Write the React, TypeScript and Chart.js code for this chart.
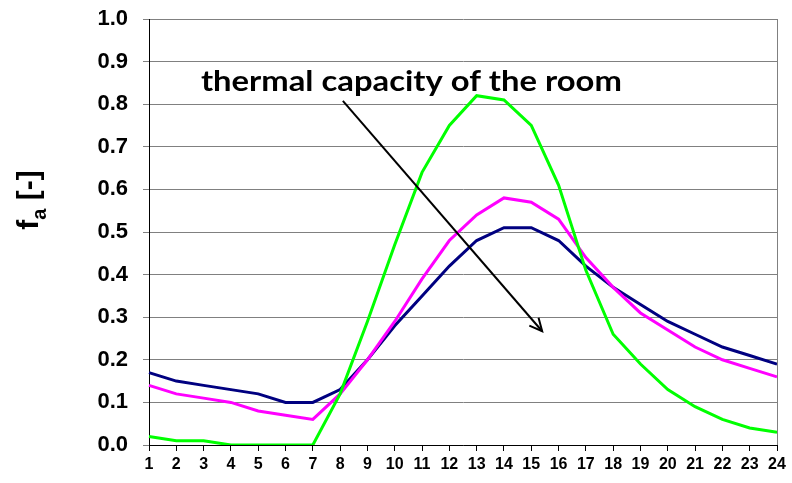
import React, { useEffect, useRef } from "react";
import { Chart, registerables } from "chart.js";

Chart.register(...registerables);

const hours = ["1","2","3","4","5","6","7","8","9","10","11","12","13","14","15","16","17","18","19","20","21","22","23","24"];
const navySeries = [0.17,0.15,0.14,0.13,0.12,0.10,0.10,0.13,0.20,0.28,0.35,0.42,0.48,0.51,0.51,0.48,0.42,0.37,0.33,0.29,0.26,0.23,0.21,0.19];
const magentaSeries = [0.14,0.12,0.11,0.10,0.08,0.07,0.06,0.12,0.20,0.29,0.39,0.48,0.54,0.58,0.57,0.53,0.44,0.37,0.31,0.27,0.23,0.20,0.18,0.16];
const greenSeries = [0.02,0.01,0.01,0.0,0.0,0.0,0.0,0.12,0.29,0.47,0.64,0.75,0.82,0.81,0.75,0.61,0.41,0.26,0.19,0.13,0.09,0.06,0.04,0.03];
const annotationText = "thermal capacity of the room";
// arrow endpoints in data coordinates (category index 0-based, value)
const arrowStart = [7.1, 0.808];
const arrowEnd = [14.4, 0.267];
const annotationAnchor = [1.9, 0.83];

const overlayPlugin = {
  id: "overlay",
  afterDraw(chart: any) {
    const ctx = chart.ctx;
    const xs = chart.scales.x;
    const ys = chart.scales.y;
    const ca = chart.chartArea;
    ctx.save();
    // right plot border
    ctx.strokeStyle = "#808080";
    ctx.lineWidth = 1;
    ctx.beginPath();
    ctx.moveTo(Math.round(ca.right) + 0.5, ca.top);
    ctx.lineTo(Math.round(ca.right) + 0.5, ca.bottom);
    ctx.stroke();

    // annotation text
    ctx.fillStyle = "#000";
    ctx.font = "bold 29px Lato, 'Open Sans', sans-serif";
    ctx.textBaseline = "alphabetic";
    ctx.textAlign = "left";
    const tx = xs.getPixelForValue(annotationAnchor[0]);
    const ty = ys.getPixelForValue(annotationAnchor[1]);
    const w = ctx.measureText(annotationText).width;
    const target = 421;
    ctx.save();
    ctx.translate(tx, ty);
    ctx.scale(target / w, 1);
    ctx.fillText(annotationText, 0, 0);
    ctx.restore();

    // arrow
    const x1 = xs.getPixelForValue(arrowStart[0]);
    const y1 = ys.getPixelForValue(arrowStart[1]);
    const x2 = xs.getPixelForValue(arrowEnd[0]);
    const y2 = ys.getPixelForValue(arrowEnd[1]);
    ctx.strokeStyle = "#000";
    ctx.lineWidth = 2;
    ctx.beginPath();
    ctx.moveTo(x1, y1);
    ctx.lineTo(x2, y2);
    ctx.stroke();
    const ang = Math.atan2(y2 - y1, x2 - x1);
    const hl = 14;
    ctx.beginPath();
    ctx.moveTo(x2 - hl * Math.cos(ang - 0.45), y2 - hl * Math.sin(ang - 0.45));
    ctx.lineTo(x2, y2);
    ctx.lineTo(x2 - hl * Math.cos(ang + 0.45), y2 - hl * Math.sin(ang + 0.45));
    ctx.stroke();

    // y axis title f_a [-]
    ctx.save();
    ctx.translate(38, 200);
    ctx.rotate(-Math.PI / 2);
    ctx.textBaseline = "alphabetic";
    ctx.textAlign = "left";
    const f1 = "bold 30px 'Liberation Sans', Arial, sans-serif";
    const f2 = "bold 20px 'Liberation Sans', Arial, sans-serif";
    ctx.font = f1;
    const wf = ctx.measureText("f").width;
    ctx.font = f2;
    const wa = ctx.measureText("a").width;
    ctx.font = f1;
    const wr = ctx.measureText(" [-]").width;
    const total = wf + wa + wr;
    let cx = -total / 2;
    ctx.font = f1;
    ctx.fillText("f", cx, 0);
    cx += wf;
    ctx.font = f2;
    ctx.fillText("a", cx, 8);
    cx += wa;
    ctx.font = f1;
    ctx.fillText(" [-]", cx, 0);
    ctx.restore();

    ctx.restore();
  },
};

export default function App() {
  const ref = useRef<HTMLCanvasElement>(null);
  useEffect(() => {
    document.body.style.margin = "0";
    const chart = new Chart(ref.current!, {
      type: "line",
      data: {
        labels: hours,
        datasets: [
          { data: navySeries, borderColor: "#000080", borderWidth: 3, pointRadius: 0, order: 2, tension: 0 },
          { data: magentaSeries, borderColor: "#FF00FF", borderWidth: 3, pointRadius: 0, order: 1, tension: 0 },
          { data: greenSeries, borderColor: "#00FF00", borderWidth: 3, pointRadius: 0, order: 0, tension: 0 },
        ],
      },
      options: {
        animation: false,
        responsive: false,
        layout: { padding: { left: 0, right: 15, top: 19, bottom: 0 } },
        plugins: { legend: { display: false }, tooltip: { enabled: false } },
        scales: {
          x: {
            type: "category",
            offset: false,
            grid: { display: true, drawOnChartArea: false, drawTicks: true, tickLength: 6, color: "#000" },
            border: { display: true, color: "#000", width: 1 },
            ticks: {
              font: { family: "'Liberation Sans', Arial, sans-serif", size: 16, weight: "bold" },
              color: "#000",
              padding: 4,
              maxRotation: 0,
              autoSkip: false,
            },
            afterFit: (s: any) => { s.height = 38; },
          },
          y: {
            min: 0,
            max: 1,
            ticks: {
              stepSize: 0.1,
              font: { family: "'Liberation Sans', Arial, sans-serif", size: 22, weight: "bold" },
              color: "#000",
              padding: 15,
              callback: (v: any) => Number(v).toFixed(1),
            },
            grid: { color: "#808080", lineWidth: 1, tickLength: 6, drawTicks: true },
            border: { display: true, color: "#000", width: 1 },
            afterFit: (s: any) => { s.width = 149; s.paddingTop = 0; s.paddingBottom = 0; },
          },
        },
      },
      plugins: [overlayPlugin],
    });
    return () => chart.destroy();
  }, []);
  return <canvas ref={ref} width={792} height={483} style={{ display: "block" }} />;
}
